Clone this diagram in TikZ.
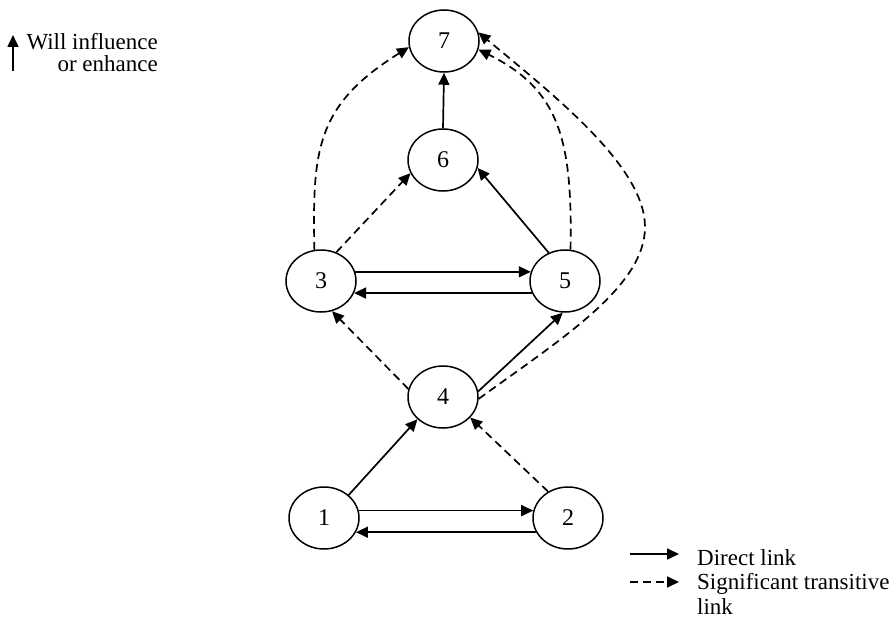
\documentclass[tikz,border=0pt]{standalone}
\usepackage{fontspec}
\setmainfont{Liberation Serif}
\usetikzlibrary{arrows.meta,shapes.geometric}
\begin{document}
\begin{tikzpicture}[x=1pt,y=-1pt,
  state/.style={ellipse,draw,line width=1.5pt,minimum width=70pt,minimum height=62pt,
    inner sep=0pt,font=\fontsize{24}{28}\selectfont},
  direct/.style={line width=1.7pt,-{Triangle[length=12pt,width=11pt]}},
  transitive/.style={direct,dash pattern=on 8pt off 5pt},
  legendtext/.style={font=\fontsize{23}{27}\selectfont,inner sep=0pt}]
\useasboundingbox (0,0) rectangle (894,618);

% factors
\node[state] (n7) at (444,41)  {7};
\node[state] (n6) at (443,160) {6};
\node[state] (n3) at (321,281) {3};
\node[state] (n5) at (565,281) {5};
\node[state] (n4) at (443,397) {4};
\node[state] (n1) at (324,518) {1};
\node[state] (n2) at (568,518) {2};

% direct links
\draw[direct] (n6.north) -- (n7.south);
\draw[direct] (n5.120) -- (n6.-13);
\draw[direct] (n3.15) -- (n5.165);
\draw[direct] (n5.-160) -- (n3.-20);
\draw[direct] (n4.9) -- (n5.-94);
\draw[direct] (n1.43) -- (n4.-139);
\draw[direct] (n1.12) -- (n2.168);
\draw[direct] (n2.-156) -- (n1.-24);

% significant transitive links
\draw[transitive] (n3.62) -- (n6.-158);
\draw[transitive] (n4.167) -- (n3.-70);
\draw[transitive] (n2.127) -- (n4.-37);
\draw[transitive] (n3.102) .. controls +(-2,-100) and +(-93,58) .. (n7.-170);
\draw[transitive] (n5.80) .. controls +(2,-110) and +(81,40) .. (n7.-14);
\coordinate (farbend) at (645,227);
\draw[transitive] (n4.-3) .. controls +(81,-59) and +(0,60) .. (farbend)
  .. controls +(0,-60) and +(77,64) .. (n7.14);

% key: direction of influence
\coordinate (keyfoot) at (13,71);
\coordinate (keyhead) at (13,35);
\draw[direct] (keyfoot) -- (keyhead);
\node[legendtext,anchor=base east] (keyA) at (158,50) {Will influence};
\node[legendtext,anchor=base east] (keyB) at (158,71) {or enhance};

% key: link types
\coordinate (dlA) at (630,554);
\coordinate (dlB) at (679,554);
\coordinate (tlA) at (630,582);
\coordinate (tlB) at (679,582);
\draw[direct] (dlA) -- (dlB);
\draw[transitive] (tlA) -- (tlB);
\node[legendtext,anchor=base west] (dltext) at (697,565) {Direct link};
\node[legendtext,anchor=base west] (tltext) at (697,589) {Significant transitive};
\node[legendtext,anchor=base west] (tltext2) at (697,614) {link};
\end{tikzpicture}
\end{document}
